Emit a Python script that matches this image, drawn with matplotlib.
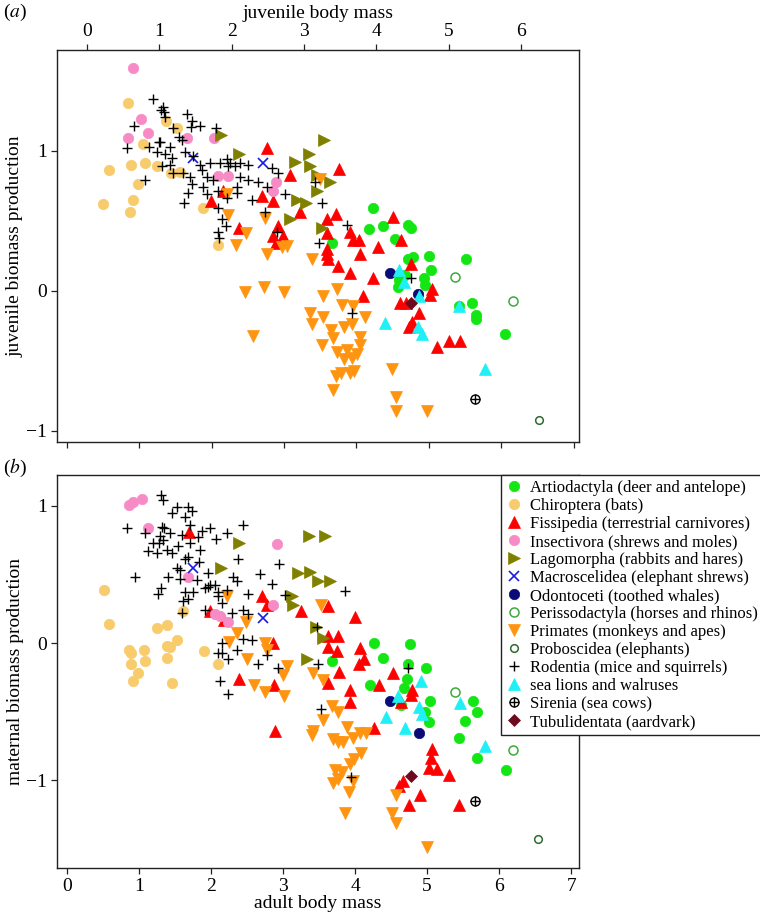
import matplotlib
matplotlib.use('Agg')
import matplotlib.pyplot as plt

plt.rcParams['font.family'] = ['Liberation Serif', 'DejaVu Serif']
plt.rcParams['mathtext.fontset'] = 'stix'

# ---- panel (a): juvenile body mass vs juvenile biomass production ----
a_artio_x = [3.95, 3.90, 4.09, 4.44, 4.47, 4.26, 3.39, 4.44, 4.51, 4.73, 4.76, 4.31, 4.30, 4.40,
             4.66, 4.67, 5.23, 5.14, 5.32, 5.38, 5.38, 5.78]
a_artio_y = [0.59, 0.44, 0.46, 0.47, 0.45, 0.37, 0.34, 0.23, 0.24, 0.25, 0.15, 0.08, 0.03, 0.11,
             0.09, 0.04, 0.23, -0.11, -0.09, -0.17, -0.20, -0.31]
a_chiro_x = [0.22, 0.30, 0.57, 0.61, 0.80, 0.97, 0.71, 0.64, 0.59, 0.77, 1.09, 1.24, 1.60, 1.81, 1.16, 1.29]
a_chiro_y = [0.62, 0.86, 1.34, 0.90, 0.91, 0.89, 0.76, 0.65, 0.56, 1.05, 1.21, 1.16, 0.59, 0.33, 0.84, 0.85]
a_fiss_x = [2.49, 3.48, 2.81, 1.71, 1.88, 2.42, 2.57, 2.94, 3.32, 3.44, 2.10, 2.64, 2.57, 2.71, 2.61,
            3.64, 3.32, 3.68, 3.76, 3.32, 3.32, 3.33, 3.47, 3.64, 4.02, 3.77, 4.23, 4.34, 4.48, 3.95,
            3.82, 4.77, 4.74, 4.33, 4.41, 4.59, 4.49, 4.45, 4.84, 5.00, 5.16]
a_fiss_y = [1.02, 0.87, 0.83, 0.64, 0.71, 0.68, 0.64, 0.56, 0.51, 0.55, 0.45, 0.46, 0.39, 0.39, 0.34,
            0.42, 0.41, 0.36, 0.36, 0.30, 0.26, 0.23, 0.18, 0.13, 0.31, 0.26, 0.53, 0.36, 0.19, 0.09,
            -0.04, 0.01, -0.03, -0.09, -0.09, -0.16, -0.22, -0.26, -0.40, -0.36, -0.36]
a_insect_x = [0.64, 0.75, 0.57, 0.84, 1.38, 1.76, 1.81, 1.95, 2.61, 2.57]
a_insect_y = [1.59, 1.23, 1.09, 1.13, 1.09, 1.09, 0.82, 0.82, 0.78, 0.71]
a_lago_x = [1.85, 2.10, 2.88, 3.07, 3.08, 3.28, 3.18, 3.36, 3.18, 2.90, 3.03, 2.81, 3.25]
a_lago_y = [1.11, 0.98, 0.92, 0.98, 0.89, 1.08, 0.83, 0.78, 0.71, 0.65, 0.63, 0.51, 0.45]
a_macro_x = [1.47, 2.43]
a_macro_y = [0.95, 0.91]
a_odont_x = [4.19, 4.58]
a_odont_y = [0.13, -0.02]
a_periss_x = [5.09, 5.88]
a_periss_y = [0.10, -0.07]
a_prim_x = [3.22, 1.94, 1.95, 2.46, 2.20, 2.06, 2.49, 2.70, 2.77, 3.11, 2.18, 2.45, 2.72, 3.26, 3.46,
            3.53, 3.68, 3.84, 3.08, 3.11, 3.26, 3.37, 3.40, 3.55, 3.66, 3.77, 3.77, 3.73, 3.25, 3.46,
            3.59, 3.55, 3.66, 3.44, 3.51, 3.64, 3.69, 3.40, 2.30, 4.22, 4.27, 4.27, 4.70]
a_prim_y = [0.80, 0.69, 0.54, 0.52, 0.41, 0.33, 0.26, 0.31, 0.32, 0.23, -0.01, 0.03, -0.01, -0.04, 0.01,
            -0.10, -0.11, -0.19, -0.16, -0.24, -0.19, -0.28, -0.34, -0.26, -0.24, -0.33, -0.39, -0.45, -0.39, -0.44,
            -0.42, -0.49, -0.48, -0.61, -0.59, -0.59, -0.57, -0.71, -0.32, -0.56, -0.76, -0.86, -0.86]
a_probo_x = [6.24]
a_probo_y = [-0.92]
a_rod_x = [0.91, 1.05, 1.02, 1.06, 1.08, 0.65, 1.38, 1.45, 1.56, 1.44, 1.78, 1.19, 1.27, 1.31, 1.00,
           1.01, 0.86, 0.55, 0.97, 1.08, 1.15, 1.18, 1.35, 1.47, 1.56, 1.70, 1.84, 1.94, 1.98, 2.05,
           2.12, 2.23, 2.56, 2.64, 1.04, 1.15, 1.19, 1.33, 1.42, 1.59, 1.66, 1.74, 1.95, 2.12, 2.23,
           2.36, 0.80, 1.45, 1.60, 1.66, 1.81, 2.07, 2.07, 1.40, 1.94, 2.28, 2.49, 2.74, 3.15, 3.25,
           1.34, 1.81, 1.87, 1.92, 2.46, 3.59, 1.81, 1.82, 2.63, 3.21, 3.66, 4.47]
a_rod_y = [1.37, 1.31, 1.29, 1.28, 1.24, 1.18, 1.26, 1.21, 1.18, 1.17, 1.16, 1.16, 1.10, 1.08, 1.06,
           1.06, 1.03, 1.02, 0.99, 0.98, 1.03, 0.95, 0.99, 0.96, 0.90, 0.91, 0.91, 0.94, 0.91, 0.89,
           0.91, 0.90, 0.88, 0.84, 0.89, 0.90, 0.84, 0.84, 0.81, 0.86, 0.81, 0.79, 0.89, 0.81, 0.79,
           0.78, 0.79, 0.76, 0.74, 0.69, 0.71, 0.74, 0.70, 0.70, 0.66, 0.65, 0.74, 0.69, 0.78, 0.63,
           0.63, 0.59, 0.51, 0.46, 0.56, 0.47, 0.42, 0.38, 0.42, 0.34, -0.16, 0.09]
a_seal_x = [4.31, 4.38, 4.59, 5.14, 4.12, 4.58, 4.63, 5.50]
a_seal_y = [0.15, 0.06, -0.04, -0.11, -0.23, -0.26, -0.31, -0.56]
a_siren_x = [5.36]
a_siren_y = [-0.77]
a_tubu_x = [4.48]
a_tubu_y = [-0.09]

# ---- panel (b): adult body mass vs maternal biomass production ----
b_artio_x = [4.26, 4.76, 4.39, 3.68, 4.74, 4.99, 4.72, 4.68, 4.21, 4.64, 5.04, 5.03, 5.63, 5.69,
             5.53, 5.44, 5.69, 6.10, 4.97]
b_artio_y = [0.00, -0.01, -0.11, -0.13, -0.15, -0.18, -0.26, -0.33, -0.31, -0.45, -0.42, -0.58, -0.42, -0.50,
             -0.57, -0.69, -0.84, -0.93, -0.50]
b_chiro_x = [0.51, 0.58, 1.25, 1.39, 1.61, 1.53, 1.39, 1.43, 0.86, 0.89, 1.07, 0.89, 1.08, 1.39, 1.90,
             2.10, 0.99, 0.92, 1.46]
b_chiro_y = [0.39, 0.14, 0.11, 0.13, 0.23, 0.02, -0.02, -0.03, -0.05, -0.07, -0.05, -0.15, -0.13, -0.11, -0.06,
             -0.15, -0.22, -0.28, -0.29]
b_fiss_x = [1.69, 2.71, 2.78, 3.25, 3.63, 4.00, 2.86, 3.63, 3.76, 3.63, 3.75, 4.07, 4.06, 4.13, 3.78,
            2.39, 2.88, 3.63, 3.93, 3.93, 2.89, 4.26, 4.33, 4.53, 4.79, 4.78, 4.64, 5.07, 5.06, 5.03,
            5.14, 5.31, 4.67, 4.61, 4.75, 4.90, 5.44, 1.99, 2.18]
b_fiss_y = [0.81, 0.34, 0.28, 0.23, 0.27, 0.19, 0.00, 0.05, 0.05, -0.03, -0.06, -0.04, -0.15, -0.12, -0.21,
            -0.26, -0.31, -0.29, -0.34, -0.43, -0.64, -0.62, -0.31, -0.22, -0.34, -0.38, -0.43, -0.77, -0.84, -0.91,
            -0.92, -0.96, -1.01, -1.04, -1.18, -1.11, -1.18, 0.23, 0.17]
b_insect_x = [0.86, 0.92, 1.04, 1.13, 1.68, 2.92, 2.86, 2.06, 2.13, 2.24]
b_insect_y = [1.01, 1.03, 1.05, 0.84, 0.48, 0.72, 0.28, 0.21, 0.20, 0.15]
b_lago_x = [2.39, 2.14, 3.36, 3.58, 3.21, 3.38, 3.49, 3.65, 3.14, 3.13, 3.46, 3.56, 3.33]
b_lago_y = [0.73, 0.55, 0.78, 0.78, 0.51, 0.52, 0.45, 0.45, 0.28, 0.34, 0.12, 0.04, -0.12]
b_macro_x = [1.75, 2.72]
b_macro_y = [0.55, 0.18]
b_odont_x = [4.49, 4.88]
b_odont_y = [-0.42, -0.66]
b_periss_x = [5.39, 6.19]
b_periss_y = [-0.36, -0.78]
b_prim_x = [2.22, 2.49, 2.36, 2.25, 2.75, 2.78, 3.53, 2.50, 3.06, 3.00, 3.42, 3.56, 2.60, 2.75, 3.01,
            3.68, 3.76, 3.56, 3.42, 3.40, 3.89, 4.07, 4.15, 3.69, 3.76, 3.83, 3.97, 4.08, 3.99, 3.93,
            3.72, 3.82, 3.69, 3.76, 3.97, 3.92, 3.86, 4.57, 4.51, 4.57, 5.00]
b_prim_y = [0.34, 0.15, 0.07, 0.01, 0.00, -0.05, 0.28, -0.12, -0.17, -0.23, -0.22, -0.27, -0.31, -0.36, -0.39,
            -0.46, -0.50, -0.56, -0.64, -0.67, -0.61, -0.66, -0.66, -0.70, -0.72, -0.72, -0.69, -0.80, -0.85, -0.88,
            -0.93, -0.94, -1.02, -0.99, -1.01, -1.09, -1.24, -1.11, -1.24, -1.31, -1.49]
b_probo_x = [6.54]
b_probo_y = [-1.43]
b_rod_x = [1.31, 1.33, 1.46, 1.53, 1.64, 1.68, 1.74, 0.83, 1.08, 1.32, 1.35, 1.29, 1.43, 1.60, 1.71,
           1.88, 1.99, 2.07, 2.22, 2.44, 1.82, 1.19, 1.28, 1.33, 1.13, 1.25, 1.39, 1.46, 1.54, 1.71,
           1.85, 1.64, 1.68, 1.53, 1.57, 1.83, 1.96, 2.38, 0.94, 1.40, 1.57, 1.81, 1.99, 2.06, 2.31,
           2.36, 1.31, 1.26, 1.64, 1.75, 1.92, 1.96, 2.10, 2.22, 2.51, 2.68, 2.85, 2.94, 3.03, 3.86,
           1.61, 1.68, 2.10, 1.92, 2.15, 2.29, 2.44, 2.51, 1.60, 2.15, 2.10, 2.15, 2.36, 2.44, 2.57,
           2.24, 2.65, 2.78, 2.13, 3.47, 3.49, 2.24, 3.53, 3.94, 4.74, 2.93]
b_rod_y = [1.08, 1.04, 0.95, 0.99, 0.92, 0.99, 0.96, 0.84, 0.80, 0.85, 0.84, 0.78, 0.80, 0.79, 0.86,
           0.82, 0.84, 0.76, 0.80, 0.86, 0.77, 0.73, 0.73, 0.75, 0.67, 0.66, 0.68, 0.66, 0.71, 0.73,
           0.68, 0.61, 0.63, 0.55, 0.53, 0.59, 0.51, 0.61, 0.48, 0.48, 0.47, 0.46, 0.42, 0.42, 0.48,
           0.45, 0.40, 0.36, 0.37, 0.37, 0.40, 0.41, 0.37, 0.39, 0.36, 0.50, 0.43, 0.58, 0.35, 0.38,
           0.31, 0.32, 0.34, 0.24, 0.29, 0.22, 0.24, 0.21, 0.22, 0.00, -0.07, -0.07, -0.05, 0.03, 0.02,
           -0.12, -0.15, -0.09, -0.28, 0.12, -0.15, -0.37, -0.48, -0.98, -0.18, -0.18]
b_seal_x = [4.92, 4.60, 4.88, 4.93, 4.43, 4.69, 5.46, 5.81]
b_seal_y = [-0.28, -0.39, -0.47, -0.52, -0.54, -0.62, -0.44, -0.75]
b_siren_x = [5.67]
b_siren_y = [-1.15]
b_tubu_x = [4.78]
b_tubu_y = [-0.97]

labels = ['Artiodactyla (deer and antelope)', 'Chiroptera (bats)',
          'Fissipedia (terrestrial carnivores)', 'Insectivora (shrews and moles)',
          'Lagomorpha (rabbits and hares)', 'Macroscelidea (elephant shrews)',
          'Odontoceti (toothed whales)', 'Perissodactyla (horses and rhinos)',
          'Primates (monkeys and apes)', 'Proboscidea (elephants)',
          'Rodentia (mice and squirrels)', 'sea lions and walruses',
          'Sirenia (sea cows)', 'Tubulidentata (aardvark)']

# marker, face colour, edge colour, size, edge width
styles = [
    ('o', '#14E614', '#14E614', 7.5, 0.5),
    ('o', '#F8CB6C', '#F8CB6C', 7.5, 0.5),
    ('^', '#FF0000', '#FF0000', 8.0, 0.5),
    ('o', '#F78BC6', '#F78BC6', 7.5, 0.5),
    ('>', '#808000', '#808000', 8.0, 0.5),
    ('x', '#1A1AE0', '#1A1AE0', 6.5, 1.2),
    ('o', '#0A0A78', '#0A0A78', 7.5, 0.5),
    ('o', 'none', '#3DAA3D', 6.5, 1.1),
    ('v', '#FF9410', '#FF9410', 8.0, 0.5),
    ('o', 'none', '#2F6A2F', 5.5, 1.1),
    ('+', 'black', 'black', 7.0, 1.0),
    ('^', '#1EF0F5', '#1EF0F5', 8.0, 0.5),
    ('siren', 'none', 'black', 6.5, 1.0),
    ('D', '#6E0A1E', '#6E0A1E', 6.5, 0.5),
]

panel_a = [(a_artio_x, a_artio_y), (a_chiro_x, a_chiro_y), (a_fiss_x, a_fiss_y),
           (a_insect_x, a_insect_y), (a_lago_x, a_lago_y), (a_macro_x, a_macro_y),
           (a_odont_x, a_odont_y), (a_periss_x, a_periss_y), (a_prim_x, a_prim_y),
           (a_probo_x, a_probo_y), (a_rod_x, a_rod_y), (a_seal_x, a_seal_y),
           (a_siren_x, a_siren_y), (a_tubu_x, a_tubu_y)]
panel_b = [(b_artio_x, b_artio_y), (b_chiro_x, b_chiro_y), (b_fiss_x, b_fiss_y),
           (b_insect_x, b_insect_y), (b_lago_x, b_lago_y), (b_macro_x, b_macro_y),
           (b_odont_x, b_odont_y), (b_periss_x, b_periss_y), (b_prim_x, b_prim_y),
           (b_probo_x, b_probo_y), (b_rod_x, b_rod_y), (b_seal_x, b_seal_y),
           (b_siren_x, b_siren_y), (b_tubu_x, b_tubu_y)]


def draw(ax, data):
    handles = []
    for (x, y), (m, fc, ec, ms, mew) in zip(data, styles):
        if m == 'siren':
            h1, = ax.plot(x, y, ls='none', marker='o', ms=ms, mfc='none', mec=ec, mew=mew)
            h2, = ax.plot(x, y, ls='none', marker='+', ms=ms, mec=ec, mew=mew)
            handles.append((h1, h2))
        else:
            h, = ax.plot(x, y, ls='none', marker=m, ms=ms, mfc=fc, mec=ec, mew=mew)
            handles.append(h)
    return handles


def style_axes(ax):
    for s in ax.spines.values():
        s.set_linewidth(1.0)
        s.set_color('#222222')
    ax.tick_params(direction='out', length=4, width=0.9, labelsize=14, pad=3, color='#222222')


fig = plt.figure(figsize=(7.6, 9.14), dpi=100)

# panel (a)
ax1 = fig.add_axes([0.075, 0.5164, 0.687, 0.4289])
draw(ax1, panel_a)
ax1.set_xlim(-0.415, 6.80)
ax1.set_ylim(-1.08, 1.72)
ax1.xaxis.tick_top()
ax1.xaxis.set_label_position('top')
ax1.set_xticks(range(7))
ax1.set_yticks([-1, 0, 1])
ax1.set_xlabel('juvenile body mass', fontsize=14, labelpad=4)
ax1.set_ylabel('juvenile biomass production', fontsize=14, labelpad=2)
style_axes(ax1)
shift = 0.277
sec = ax1.secondary_xaxis('bottom', functions=(lambda v: v + shift, lambda v: v - shift))
sec.set_xticks(range(8))
sec.set_xticklabels([])
sec.tick_params(direction='out', length=4, width=0.9, color='#222222')
sec.spines['bottom'].set_visible(False)

# panel (b)
ax2 = fig.add_axes([0.075, 0.0503, 0.687, 0.4300])
handles = draw(ax2, panel_b)
ax2.set_xlim(-0.139, 7.11)
ax2.set_ylim(-1.642, 1.226)
ax2.set_xticks(range(8))
ax2.set_yticks([-1, 0, 1])
ax2.set_xlabel('adult body mass', fontsize=14, labelpad=0)
ax2.set_ylabel('maternal biomass production', fontsize=14, labelpad=2)
style_axes(ax2)

fig.text(0.004, 0.986, r'($\it{a}$)', fontsize=14, va='center', ha='left')
fig.text(0.004, 0.488, r'($\it{b}$)', fontsize=14, va='center', ha='left')

leg = fig.legend(handles, labels, loc='upper left', bbox_to_anchor=(501 / 760, 1 - 475 / 914),
                 bbox_transform=fig.transFigure, fontsize=12, frameon=True, fancybox=False,
                 framealpha=1, edgecolor='#222222', borderpad=0.3, labelspacing=0.12,
                 handlelength=1.0, handletextpad=0.45, borderaxespad=0)
leg.get_frame().set_linewidth(1.0)

fig.savefig('out.png', dpi=100)
